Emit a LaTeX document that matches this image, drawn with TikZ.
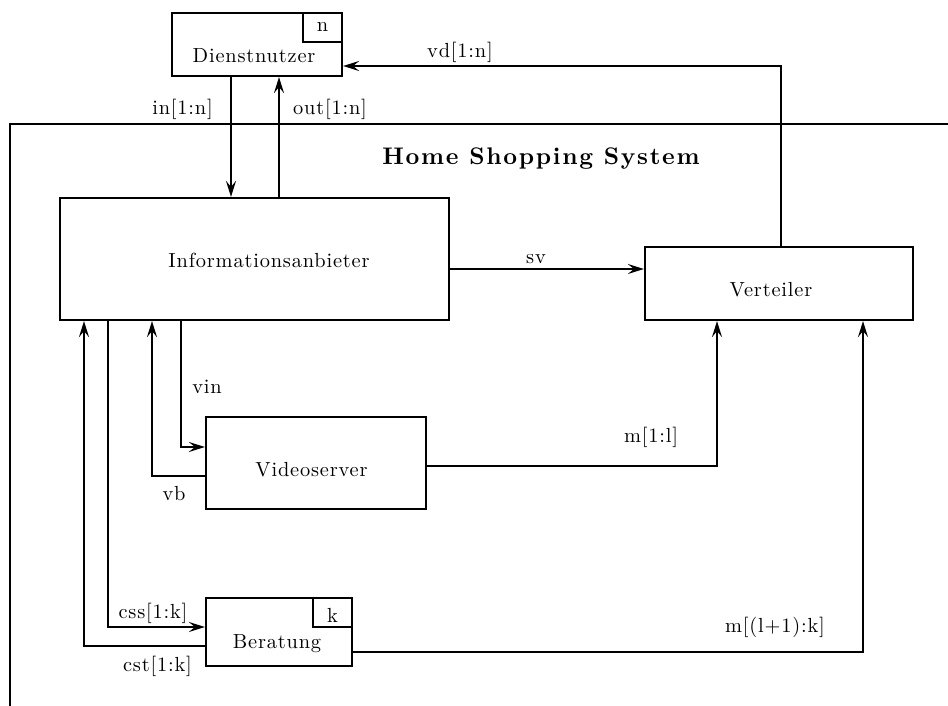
\documentclass[tikz,border=0pt]{standalone}
\usepackage{fontspec}
\setmainfont{lmroman10-regular.otf}[BoldFont=lmroman10-bold.otf, LetterSpace=4]
\usetikzlibrary{arrows.meta}
\begin{document}
\begin{tikzpicture}[x=0.5pt,y=-0.5pt,
  box/.style={draw, line width=1.1pt, inner sep=0pt},
  tag/.style={box, minimum width=19.5pt, minimum height=14.5pt, anchor=north east},
  txt/.style={inner sep=0pt, anchor=base, font=\fontsize{10.2}{12}\selectfont},
  arr/.style={line width=1pt, -{Stealth[length=8pt,width=5pt,inset=3pt]}},
  wire/.style={line width=1pt}]
\useasboundingbox (0,0) rectangle (948,706);

% system frame
\draw[wire] (948,124) -- (10,124) -- (10,706);
\node[inner sep=0pt, anchor=base, font=\fontsize{12}{14}\selectfont\bfseries\addfontfeatures{LetterSpace=7}] (title) at (541,164) {Home Shopping System};

% boxes
\node[box, minimum width=85pt, minimum height=31.5pt] (dn) at (257,44.5) {};
\node[tag] (ntag) at (dn.north east) {};
\node[txt] (ntxt) at (322.5,32) {n};
\node[txt] (dntxt) at (254,63) {Dienstnutzer};

\node[box, minimum width=194.5pt, minimum height=61pt] (info) at (254.5,259) {};
\node[txt] (infotxt) at (269,267) {Informationsanbieter};

\node[box, minimum width=134pt, minimum height=36.5pt] (vt) at (779,283.5) {};
\node[txt] (vttxt) at (771,296) {Verteiler};

\node[box, minimum width=110pt, minimum height=46pt] (vs) at (316,463) {};
\node[txt] (vstxt) at (311.5,476) {Videoserver};

\node[box, minimum width=73pt, minimum height=34pt] (ber) at (279,632) {};
\node[tag] (ktag) at (ber.north east) {};
\node[txt] (ktxt) at (332.5,622) {k};
\node[txt] (bertxt) at (277,648) {Beratung};

% routing coordinates
\coordinate (xin) at (231,0);
\coordinate (xout) at (279,0);
\coordinate (xvd) at (781,0);
\coordinate (yvd) at (0,66);
\coordinate (ysv) at (0,269);
\coordinate (xvin) at (181,0);
\coordinate (yvin) at (0,447);
\coordinate (xvb) at (152,0);
\coordinate (yvb) at (0,476);
\coordinate (xm1) at (717,0);
\coordinate (ym1) at (0,466);
\coordinate (xcss) at (108,0);
\coordinate (ycss) at (0,627);
\coordinate (xcst) at (84,0);
\coordinate (ycst) at (0,646);
\coordinate (xmk) at (863,0);
\coordinate (ymk) at (0,652);

% connectors
\draw[arr] (xin |- dn.south) -- (xin |- info.north);
\draw[arr] (xout |- info.north) -- (xout |- dn.south);
\draw[arr] (xvd |- vt.north) |- (dn.east |- yvd);
\draw[arr] (info.east |- ysv) -- (vt.west |- ysv);
\draw[arr] (xvin |- info.south) |- (vs.west |- yvin);
\draw[arr] (vs.west |- yvb) -| (xvb |- info.south);
\draw[arr] (vs.east |- ym1) -| (xm1 |- vt.south);
\draw[arr] (xcss |- info.south) |- (ber.west |- ycss);
\draw[arr] (ber.west |- ycst) -| (xcst |- info.south);
\draw[arr] (ber.east |- ymk) -| (xmk |- vt.south);

% labels
\node[txt] (lin) at (182.5,115) {in[1:n]};
\node[txt] (lout) at (330,115) {out[1:n]};
\node[txt] (lvd) at (460,58) {vd[1:n]};
\node[txt] (lsv) at (536,263) {sv};
\node[txt] (lvin) at (207,393) {vin};
\node[txt] (lvb) at (174,500) {vb};
\node[txt] (lm1) at (651,442) {m[1:l]};
\node[txt] (lmk) at (775,632) {m[(l+1):k]};
\node[txt] (lcss) at (153,618) {css[1:k]};
\node[txt] (lcst) at (157.5,671) {cst[1:k]};
\end{tikzpicture}
\end{document}
